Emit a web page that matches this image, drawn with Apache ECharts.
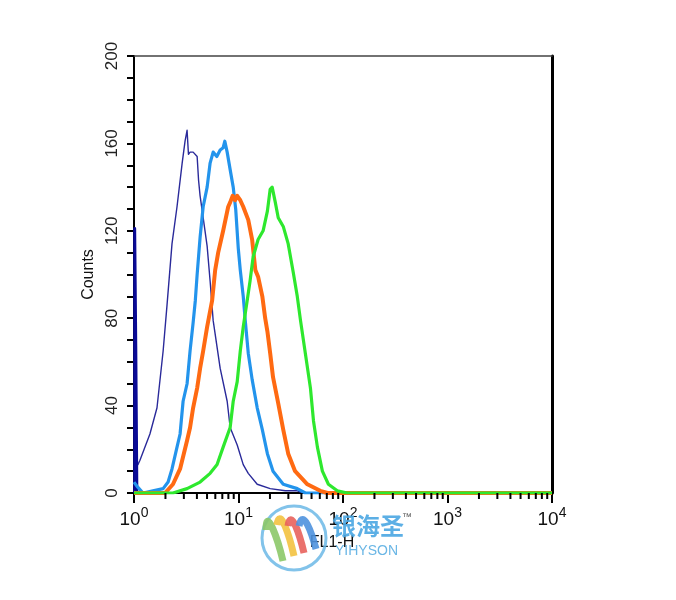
<!DOCTYPE html>
<html><head><meta charset="utf-8">
<script src="https://cdn.jsdelivr.net/npm/echarts@6/dist/echarts.min.js"></script>
<style>html,body{margin:0;padding:0;background:#fff}#c{width:676px;height:600px}</style>
</head><body><div id="c"></div>
<script>
// ---- data (FL1-H channel value, counts) ----
const navySpikeX = [1.015, 1.015, 1.04, 1.04, 1.065, 1.065];
const navySpikeY = [0, 121, 121, 67, 67, 0];
const navyX = [1.0, 1.09, 1.14, 1.25, 1.42, 1.66, 1.90, 2.07, 2.31, 2.58, 2.89, 3.08, 3.22, 3.32, 3.44, 3.68, 4.02, 4.15, 4.29, 4.59, 5.01, 5.35, 5.72, 6.68, 7.79, 8.32, 9.72, 11.1, 12.4, 15.1, 20.1, 28, 36.5, 41.7, 10000];
const navyY = [13, 13, 15, 20, 27, 39, 65, 86, 114, 131, 151, 161, 166, 155, 156, 156, 154, 143, 136, 126, 113, 97, 79, 57, 42, 30, 22, 13, 9, 4, 2, 1, 1, 0, 0];
const blueX = [1.0, 1.07, 1.22, 1.52, 1.90, 2.12, 2.31, 2.58, 2.76, 2.95, 3.22, 3.44, 3.68, 3.86, 4.02, 4.29, 4.59, 5.01, 5.35, 5.72, 6.2, 6.68, 7.13, 7.4, 7.79, 8.32, 8.9, 9.4, 9.95, 10.4, 11.1, 11.6, 12.4, 13.5, 15.1, 16.9, 18.9, 21.4, 26.8, 36.5, 43.6, 10000];
const blueY = [5, 3, 0, 1, 2, 5, 11, 21, 27, 42, 50, 65, 78, 88, 100, 117, 131, 140, 151, 156, 154, 157, 158, 161, 156, 148, 140, 130, 112, 102, 90, 79, 64, 52, 39, 29, 18, 10, 4, 2, 0, 0];
const orangeX = [1.0, 1.98, 2.36, 2.76, 3.22, 3.44, 3.68, 4.02, 4.29, 4.59, 5.01, 5.59, 5.98, 6.39, 7.13, 7.97, 8.32, 8.8, 9.29, 9.72, 10.4, 11.1, 11.6, 12.4, 13.5, 14.5, 15.4, 16.9, 18.0, 18.9, 20.1, 21.4, 24.0, 26.8, 29.9, 34.8, 45.6, 60.6, 71, 10000];
const orangeY = [0, 0, 4, 11, 24, 30, 39, 48, 57, 65, 76, 88, 102, 110, 120, 131, 133, 136, 134, 136, 134, 131, 131, 125, 116, 102, 99, 90, 80, 74, 64, 53, 41, 29, 18, 10, 4, 1, 0, 0];
const greenX = [1.0, 2.36, 3.22, 4.29, 5.35, 6.24, 7.13, 8.32, 8.9, 9.72, 10.4, 11.1, 12.1, 12.9, 13.8, 15.4, 17.2, 18.9, 20.1, 21.0, 22.5, 24.0, 26.8, 29.9, 33.4, 36.5, 39.2, 43.6, 48.8, 52.2, 56.9, 63.5, 72.5, 88.2, 110, 10000];
const greenY = [0, 0, 2, 5, 9, 13, 21, 30, 42, 51, 65, 76, 88, 97, 108, 116, 120, 129, 139, 140, 133, 126, 122, 114, 101, 90, 79, 64, 48, 33, 21, 10, 4, 1, 0, 0];
const xTickExponents = [0, 1, 2, 3, 4];
const xMinorTickValues = [2,3,4,5,6,7,8,9,20,30,40,50,60,70,80,90,200,300,400,500,600,700,800,900,2000,3000,4000,5000,6000,7000,8000,9000];
const yTickValues = [0, 40, 80, 120, 160, 200];

const zip = (xs, ys) => xs.map((x, i) => [x, ys[i]]);
const chart = echarts.init(document.getElementById('c'), null, {renderer: 'canvas'});
const FONT = 'Liberation Sans, Arial, sans-serif';

const lineSeries = (name, xs, ys, color, width, z) => ({
  name, type: 'line', data: zip(xs, ys), symbol: 'none', z: z,
  lineStyle: {color, width, join: 'round'}, silent: true, animation: false
});

chart.setOption({
  animation: false,
  grid: {left: 134, right: 124, top: 56, bottom: 107, containLabel: false},
  xAxis: [{
    type: 'log', logBase: 10, min: 1, max: 10000,
    name: 'FL1-H', nameLocation: 'middle', nameGap: 42,
    nameTextStyle: {fontFamily: FONT, fontSize: 16, color: '#111', padding: [0, 22, 0, 0]},
    axisLine: {show: true, onZero: false, lineStyle: {color: '#000', width: 2}},
    axisTick: {show: true, length: 10, lineStyle: {color: '#000', width: 2}},
    splitLine: {show: false},
    axisLabel: {
      margin: 13, color: '#111', fontFamily: FONT,
      formatter: v => '{b|10}{s|' + Math.round(Math.log10(v)) + '}',
      rich: {b: {fontSize: 19, fontFamily: FONT, color: '#111'},
             s: {fontSize: 14, fontFamily: FONT, color: '#111', padding: [0, 0, 14, 0]}}
    }
  }, {
    type: 'log', logBase: 10, min: 1, max: 10000, position: 'top',
    axisLine: {show: true, onZero: false, lineStyle: {color: '#444', width: 1.5}},
    axisTick: {show: false}, axisLabel: {show: false}, splitLine: {show: false}
  }],
  yAxis: [{
    type: 'value', min: 0, max: 200, interval: 40,
    name: 'Counts', nameLocation: 'middle', nameGap: 36, nameRotate: 90,
    nameTextStyle: {fontFamily: FONT, fontSize: 16, color: '#111'},
    axisLine: {show: true, lineStyle: {color: '#000', width: 2}},
    axisTick: {show: true, length: 7, lineStyle: {color: '#000', width: 2}},
    minorTick: {show: true, splitNumber: 4, length: 7, lineStyle: {color: '#000', width: 2}},
    splitLine: {show: false},
    axisLabel: {rotate: 90, margin: 13, fontFamily: FONT, fontSize: 17, color: '#222'}
  }, {
    type: 'value', min: 0, max: 200, position: 'right',
    axisLine: {show: true, onZero: false, lineStyle: {color: '#000', width: 3}},
    axisTick: {show: false}, axisLabel: {show: false}, splitLine: {show: false}
  }],
  series: [
    lineSeries('navy', navyX, navyY, '#2a2a9a', 1.4, 2),
    lineSeries('navySpike', navySpikeX, navySpikeY, '#0a0a96', 3, 2),
    lineSeries('blue', blueX, blueY, '#2394ec', 3.2, 3),
    lineSeries('orange', orangeX, orangeY, '#ff6a12', 4, 4),
    lineSeries('green', greenX, greenY, '#2ee82e', 3.2, 5),
    {
      type: 'custom', clip: false, silent: true, z: 6,
      data: xMinorTickValues.map(v => [v, 0]),
      renderItem: (params, api) => {
        const p = api.coord([api.value(0), 0]);
        return {type: 'line', shape: {x1: p[0], y1: p[1], x2: p[0], y2: p[1] + 6},
                style: {stroke: '#000', lineWidth: 2}};
      }
    }
  ],
  graphic: [
    {type: 'circle', shape: {cx: 294, cy: 538, r: 32}, style: {fill: 'none', stroke: '#6cb8e6', lineWidth: 3, opacity: 0.85}, z: 20},
    {type: 'bezierCurve', shape: {x1: 266, y1: 530, cpx1: 266, cpy1: 505, cpx2: 278, cpy2: 540, x2: 283, y2: 561}, style: {stroke: '#8cc868', lineWidth: 7, fill: 'none', opacity: 0.9}, z: 21},
    {type: 'bezierCurve', shape: {x1: 277, y1: 525, cpx1: 280, cpy1: 505, cpx2: 290, cpy2: 538, x2: 294, y2: 556}, style: {stroke: '#f3c240', lineWidth: 7, fill: 'none', opacity: 0.9}, z: 21},
    {type: 'bezierCurve', shape: {x1: 288, y1: 526, cpx1: 291, cpy1: 507, cpx2: 300, cpy2: 536, x2: 304, y2: 553}, style: {stroke: '#e8625c', lineWidth: 7, fill: 'none', opacity: 0.9}, z: 21},
    {type: 'bezierCurve', shape: {x1: 299, y1: 526, cpx1: 303, cpy1: 507, cpx2: 312, cpy2: 534, x2: 316, y2: 549}, style: {stroke: '#4f92de', lineWidth: 7, fill: 'none', opacity: 0.9}, z: 21},
    {type: 'text', left: 332, top: 514, style: {text: '银海圣', font: 'bold 24px "Noto Sans CJK SC"', fill: '#4aa6e2', opacity: 0.9}, z: 22},
    {type: 'text', left: 402, top: 512, style: {text: '™', font: '10px ' + FONT, fill: '#555'}, z: 22},
    {type: 'text', left: 335, top: 544, style: {text: 'YIHYSON', font: '14px ' + FONT, fill: '#5aaee2', opacity: 0.9}, z: 22}
  ]
});
</script>
</body></html>
